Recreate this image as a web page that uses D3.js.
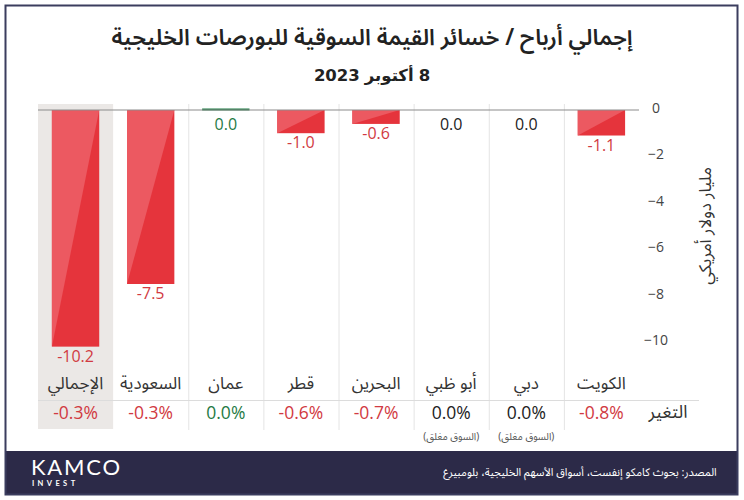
<!DOCTYPE html>
<html><head><meta charset="utf-8">
<script src="https://cdn.jsdelivr.net/npm/d3@7/dist/d3.min.js"></script>
<style>
body{margin:0;background:#fff;}
svg{display:block;}
.ar{font-family:"Noto Sans Arabic","DejaVu Sans",sans-serif;}
.ard{font-family:"DejaVu Sans","Noto Sans Arabic",sans-serif;}
.num{font-family:"Open Sans","Noto Sans",sans-serif;}
</style></head>
<body>
<svg id="c" width="744" height="500"></svg>
<script>
const categories = ["الإجمالي","السعودية","عمان","قطر","البحرين","أبو ظبي","دبي","الكويت"];
const values = [-10.2, -7.5, 0.0, -1.0, -0.6, 0.0, 0.0, -1.1];
const valueLabels = ["-10.2","-7.5","0.0","-1.0","-0.6","0.0","0.0","-1.1"];
const changes = ["-0.3%","-0.3%","0.0%","-0.6%","-0.7%","0.0%","0.0%","-0.8%"];
const status = ["neg","neg","pos","neg","neg","closed","closed","neg"];
const closedNote = "(السوق مغلق)";
const yTicks = [0,-2,-4,-6,-8,-10];
const title = "إجمالي أرباح / خسائر القيمة السوقية للبورصات الخليجية";
// subtitle "8 أكتوبر 2023" (read right to left): parts in visual left-to-right order
const subtitleParts = ["2023", "أكتوبر", "8"];
const yTitle = "مليار دولار أمريكي";
const changeTitle = "التغير";
const source = "المصدر: بحوث كامكو إنفست، أسواق الأسهم الخليجية، بلومبيرغ";

const svg = d3.select("#c");
const navy = "#2c2a48";
const red = "#d13a42", green = "#1f7a45", black = "#222";
const colorFor = s => s==="neg"?red:(s==="pos"?green:black);

const x = d3.scaleBand().domain(categories).range([38, 639]).padding(0);
const y = d3.scaleLinear().domain([0,-10]).range([110, 342]);
const bw = x.bandwidth()*0.63;

// shaded total column
svg.append("rect").attr("x", x(categories[0])).attr("y", 104)
  .attr("width", x.bandwidth()).attr("height", 325).attr("fill", "#ebe8e6");

// separators
categories.slice(2).forEach(c=>{
  svg.append("line").attr("x1", x(c)+0.5).attr("x2", x(c)+0.5)
    .attr("y1", 104).attr("y2", 430).attr("stroke", "#e4e4e4").attr("stroke-width",1);
});

// horizontal separator above change row
svg.append("line").attr("x1", 38).attr("x2", 699).attr("y1", 400.5).attr("y2", 400.5)
  .attr("stroke", "#dcdcdc").attr("stroke-width", 1);

// bars
categories.forEach((c,i)=>{
  const v = values[i];
  const x0 = x(c) + (x.bandwidth()-bw)/2, x1 = x0 + bw;
  const y0 = y(0), y1 = y(v);
  if (v < 0) {
    svg.append("rect").attr("x", x0).attr("y", y0).attr("width", bw).attr("height", y1-y0).attr("fill", "#e5343c");
    svg.append("path").attr("d", `M${x0},${y0}L${x1},${y0}L${x0},${y1}Z`).attr("fill", "#ec5961");
  } else if (status[i]==="pos") {
    svg.append("rect").attr("x", x0).attr("y", y0-1.5).attr("width", bw).attr("height", 2).attr("fill", green);
  }
});

// zero line
svg.append("line").attr("x1", 38).attr("x2", 639).attr("y1", y(0)).attr("y2", y(0))
  .attr("stroke", "#8c8c8c").attr("stroke-width", 1.2);

// value labels
categories.forEach((c,i)=>{
  const v = values[i];
  const yy = v<0 ? y(v)+11 : y(0)+16;
  svg.append("text").attr("class","num").attr("x", x(c)+x.bandwidth()/2).attr("y", yy)
    .attr("text-anchor","middle").attr("dominant-baseline","middle")
    .attr("font-size", 16).attr("fill", colorFor(status[i])).text(valueLabels[i]);
});

// y axis
const ax = svg.append("g").attr("transform","translate(640,0)")
  .call(d3.axisRight(y).tickValues(yTicks).tickSize(0).tickFormat(d3.format("d")));
ax.select(".domain").remove();
ax.selectAll("text").attr("class","num").attr("x", 16).attr("text-anchor","middle")
  .attr("font-size", 14).attr("fill", "#444").attr("dy","0.32em")
  .attr("transform","translate(0,-2)");

// y title
svg.append("text").attr("class","ar").attr("transform","translate(706,226) rotate(-90)")
  .attr("text-anchor","middle").attr("dominant-baseline","middle")
  .attr("font-size", 17).attr("fill", "#333").text(yTitle);

// category labels
categories.forEach((c,i)=>{
  svg.append("text").attr("class","ar").attr("x", x(c)+x.bandwidth()/2).attr("y", 384)
    .attr("text-anchor","middle").attr("dominant-baseline","middle")
    .attr("font-size", 17).attr("fill", "#333").text(c);
  svg.append("text").attr("class","num").attr("x", x(c)+x.bandwidth()/2).attr("y", 414)
    .attr("text-anchor","middle").attr("dominant-baseline","middle")
    .attr("font-size", 17.5).attr("fill", colorFor(status[i])).text(changes[i]);
  if (status[i]==="closed") {
    svg.append("text").attr("class","ar").attr("x", x(c)+x.bandwidth()/2).attr("y", 437)
      .attr("text-anchor","middle").attr("dominant-baseline","middle")
      .attr("font-size", 10).attr("fill", "#555").text(closedNote);
  }
});
svg.append("text").attr("class","ar").attr("x", 668).attr("y", 413)
  .attr("text-anchor","middle").attr("dominant-baseline","middle")
  .attr("font-size", 18).attr("fill", "#333").text(changeTitle);

// titles
svg.append("text").attr("class","ar").attr("x", 372).attr("y", 39)
  .attr("text-anchor","middle").attr("dominant-baseline","middle")
  .attr("font-size", 22.5).attr("font-weight", 600).attr("fill", "#222").text(title);

// subtitle laid out from its parts
const sub = svg.append("g");
const gap = 5;
const parts = subtitleParts.map(p => sub.append("text").attr("class","ard")
  .attr("y", 76).attr("dominant-baseline","middle")
  .attr("font-size", 16.5).attr("font-weight", 700).attr("fill", "#222").text(p));
const widths = parts.map(t => t.node().getComputedTextLength());
const total = d3.sum(widths) + gap*(parts.length-1);
let cx = 372 - total/2;
parts.forEach((t,i)=>{ t.attr("x", cx + widths[i]/2).attr("text-anchor","middle"); cx += widths[i] + gap; });

// footer
svg.append("rect").attr("x", 5).attr("y", 451).attr("width", 733).attr("height", 44).attr("fill", navy);
svg.append("text").attr("x", 31).attr("y", 475).attr("font-family","Lato, 'Open Sans', sans-serif")
  .attr("font-size", 22).attr("fill", "#fff").attr("letter-spacing", 1.8).text("KAMCO");
svg.append("text").attr("x", 32).attr("y", 486).attr("font-family","Lato, 'Open Sans', sans-serif")
  .attr("font-size", 7.5).attr("font-weight", 700).attr("fill", "#fff").attr("letter-spacing", 3.4).text("INVEST");
svg.append("text").attr("class","ar").attr("x", 580).attr("y", 473)
  .attr("text-anchor","middle").attr("dominant-baseline","middle")
  .attr("font-size", 11).attr("fill", "#fff").text(source);

// frame
svg.append("rect").attr("x", 5.5).attr("y", 5.5).attr("width", 732).attr("height", 489)
  .attr("fill", "none").attr("stroke", "#3b3d5e").attr("stroke-width", 2);
</script>
</body></html>
